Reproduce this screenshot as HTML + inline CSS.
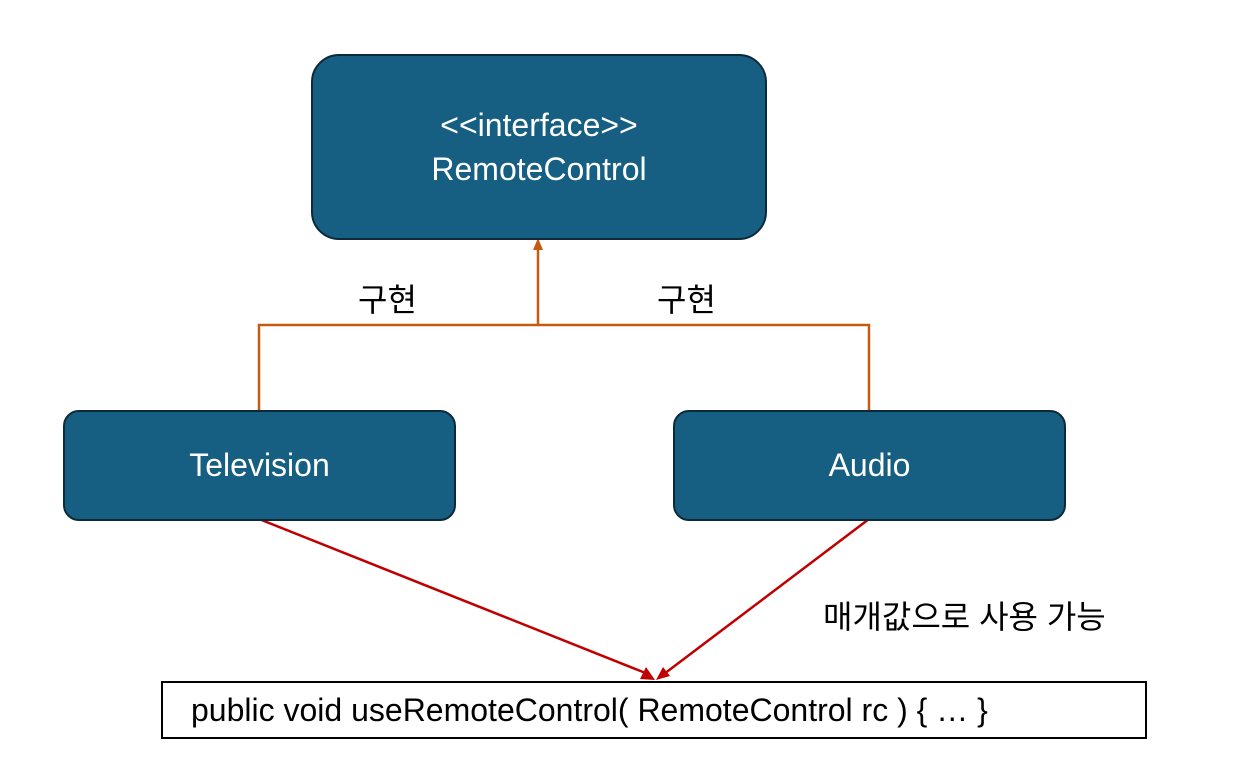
<!DOCTYPE html>
<html><head><meta charset="utf-8"><style>
body{margin:0;width:1239px;height:780px;background:#fff;overflow:hidden;font-family:"Liberation Sans","Noto Sans CJK KR",sans-serif;}
.b{position:absolute;background:#175f82;border:2px solid #0c2a3a;box-sizing:border-box;color:#fff;display:flex;align-items:center;justify-content:center;text-align:center;font-size:32px;}
.t{position:absolute;font-size:32px;color:#000;}
</style></head><body>
<svg width="1239" height="780" style="position:absolute;left:0;top:0">
<defs>
<marker id="o" markerWidth="8" markerHeight="8" refX="4" refY="7" orient="auto-start-reverse" markerUnits="userSpaceOnUse"><path d="M0,8 L4,0 L8,8z" fill="#c55a11" transform="rotate(0)"/></marker>
</defs>
<path d="M259,411 V325 H869 V411" stroke="#c55a11" stroke-width="2.5" fill="none"/>
<line x1="538" y1="325" x2="538" y2="250" stroke="#c55a11" stroke-width="2.5"/>
<path d="M533,250 L538,238 L543,250z" fill="#c55a11"/>
<line x1="259" y1="519" x2="648" y2="674" stroke="#c00000" stroke-width="2.5"/>
<path d="M655,680 L640,679 L646,667z" fill="#c00000"/>
<line x1="869" y1="519" x2="664" y2="674" stroke="#c00000" stroke-width="2.5"/>
<path d="M656,680 L663,667 L670,676z" fill="#c00000"/>
</svg>
<div class="b" style="left:311px;top:54px;width:456px;height:186px;border-radius:28px;line-height:44px">&lt;&lt;interface&gt;&gt;<br>RemoteControl</div>
<div class="b" style="left:63px;top:410px;width:393px;height:111px;border-radius:16px">Television</div>
<div class="b" style="left:673px;top:410px;width:393px;height:111px;border-radius:16px">Audio</div>
<div class="t" style="left:358px;top:275px">구현</div>
<div class="t" style="left:657px;top:275px">구현</div>
<div class="t" style="left:823px;top:592px">매개값으로 사용 가능</div>
<div style="position:absolute;left:161px;top:681px;width:986px;height:58px;border:2px solid #000;box-sizing:border-box;font-size:32px;line-height:54px;padding-left:28px">public void useRemoteControl( RemoteControl rc ) { … }</div>
</body></html>
